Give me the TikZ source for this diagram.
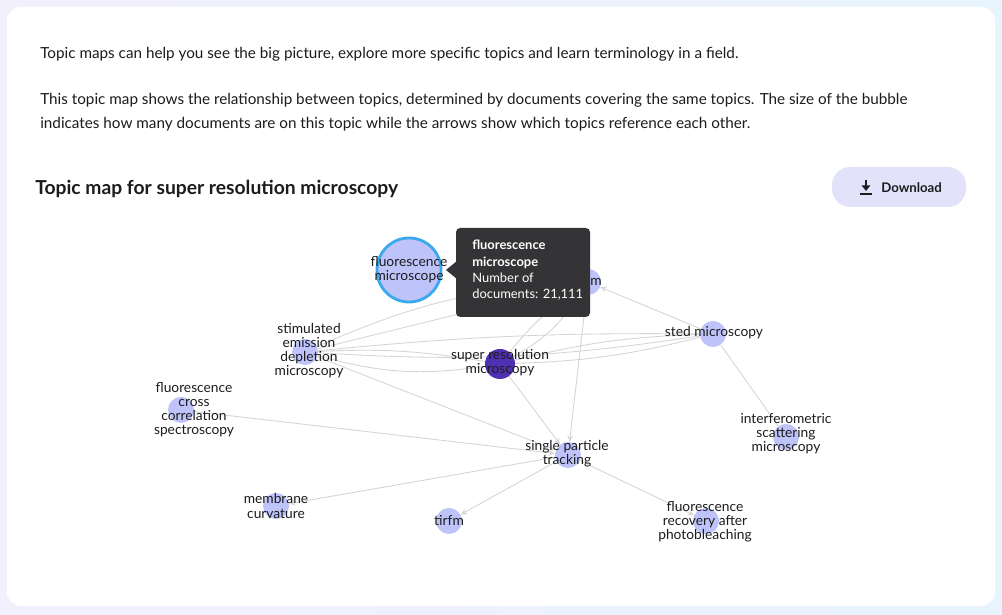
\documentclass[tikz,border=0pt]{standalone}
\usepackage{fontspec}
\setmainfont{Lato}
\usepackage{tikz}
\usetikzlibrary{positioning, arrows.meta, backgrounds, calc}

\definecolor{bubblefill}{RGB}{190,195,250}
\definecolor{srmfill}{RGB}{78,48,178}
\definecolor{fmring}{RGB}{58,168,236}
\definecolor{edgegray}{RGB}{212,212,214}
\definecolor{tipbg}{RGB}{52,52,54}
\definecolor{btnfill}{RGB}{226,226,250}
\definecolor{bodytext}{RGB}{28,28,30}
\definecolor{outerleft}{RGB}{243,240,253}
\definecolor{outerright}{RGB}{231,243,253}

\begin{document}
\begin{tikzpicture}[
    x=0.025cm, y=-0.025cm,
    bubble/.style={circle, fill=bubblefill, draw=none, minimum size=0.65cm, inner sep=0pt},
    bigbubble/.style={circle, fill=bubblefill, draw=fmring, line width=2pt, minimum size=1.6cm, inner sep=0pt},
    darkbubble/.style={circle, fill=srmfill, draw=none, minimum size=0.75cm, inner sep=0pt},
    lbl/.style={align=center, text=bodytext, font=\fontsize{9.8}{10}\selectfont, inner sep=0pt},
    edge/.style={draw=edgegray, line width=0.6pt},
    arr/.style={-{Stealth[length=4.5pt, width=4pt, open]}},
    para/.style={anchor=west, text=bodytext, font=\fontsize{10.85}{17}\selectfont, inner sep=0pt}
]
\useasboundingbox (0,0) rectangle (1002,615);

% Hintergrund und Karte
\begin{scope}[on background layer]
\shade[left color=outerleft, right color=outerright] (0,0) rectangle (1002,615);
\fill[white, rounded corners=10pt] (7,7) rectangle (995,606);
\end{scope}

% Texte oben
\node[para] (intro) at (40,54) {Topic maps can help you see the big picture, explore more specific topics and learn terminology in a field.};
\node[para, align=left, anchor=north west] (expl) at (40,93) {This topic map shows the relationship between topics, determined by documents covering the same topics. The size of the bubble\\indicates how many documents are on this topic while the arrows show which topics reference each other.};
\node[anchor=west, inner sep=0pt, text=bodytext, font=\fontsize{13.7}{15}\selectfont\bfseries] (title) at (35,189) {Topic map for super resolution microscopy};

% Download-Knopf
\node[fill=btnfill, rounded corners=13pt, minimum width=3.35cm, minimum height=1cm] (dl) at (899,187) {};
\node[anchor=west, inner sep=0pt, text=bodytext, font=\fontsize{9.4}{11}\selectfont\bfseries] (dltext) at (881,188) {Download};
\draw[bodytext, line width=1.3pt] (860,194) -- (872,194);
\draw[bodytext, line width=1.4pt, -{Triangle[length=4pt, width=6pt]}] (866,180) -- (866,191);

% Knoten
\node[bigbubble] (fm) at (409,270) {};
\node[bubble] (storm) at (588,282) {};
\node[bubble] (sdm) at (305,352) {};
\node[bubble] (sted) at (713,334) {};
\node[darkbubble] (srm) at (500,364) {};
\node[bubble] (fccs) at (181,410) {};
\node[bubble] (iscat) at (786,437) {};
\node[bubble] (spt) at (568,455) {};
\node[bubble] (memb) at (276,506) {};
\node[bubble] (tirfm) at (449,521) {};
\node[bubble] (frap) at (706,521) {};

% Kanten
\begin{scope}[on background layer]
\draw[edge, arr] (sted) -- (storm);
\draw[edge] (sted) -- (iscat);
\draw[edge, arr] (spt) -- (tirfm);
\draw[edge, arr] (spt) -- (memb);
\draw[edge, arr] (spt) -- (frap);
\draw[edge, arr] (fccs) -- (spt);
\draw[edge, arr] (srm) -- (spt);
\draw[edge, arr] (storm) -- (spt);
\draw[edge, arr] (sdm) -- (spt);
\draw[edge] (sdm) -- (storm);
\draw[edge] (sdm) to[bend left=10] (storm);
\draw[edge] (sdm) to[bend left=3] (sted);
\draw[edge] (sdm) to[bend right=6] (sted);
\draw[edge] (sdm) to[bend left=6] (srm);
\draw[edge] (sdm) to[bend right=12] (srm);
\draw[edge] (srm) to[bend left=8] (storm);
\draw[edge] (srm) to[bend right=14] (storm);
\draw[edge] (srm) to[bend left=6] (sted);
\draw[edge] (srm) to[bend right=6] (sted);
\end{scope}

% Beschriftungen
\node[lbl] (fm-l) at (fm) {fluorescence\\microscope};
\node[lbl] (sdm-l) at (309,351) {stimulated\\emission\\depletion\\microscopy};
\node[lbl] (sted-l) at (714,333) {sted microscopy};
\node[lbl] (srm-l) at (500,363) {super resolution\\microscopy};
\node[lbl] (fccs-l) at (194,410) {fluorescence\\cross\\correlation\\spectroscopy};
\node[lbl] (iscat-l) at (786,434) {interferometric\\scattering\\microscopy};
\node[lbl] (spt-l) at (567,454) {single particle\\tracking};
\node[lbl] (memb-l) at (276,506) {membrane\\curvature};
\node[lbl] (tirfm-l) at (449,521) {tirfm};
\node[lbl] (frap-l) at (705,522) {fluorescence\\recovery after\\photobleaching};
\node[lbl, anchor=west] (storm-l) at (590,282) {m};

% Tooltip
\fill[tipbg, rounded corners=3pt] (456,228) rectangle (590,317);
\fill[tipbg] (446,270) -- (457,261) -- (457,279) -- cycle;
\node[anchor=north west, align=left, inner sep=0pt, text=white, font=\fontsize{9.2}{11.6}\selectfont] (tip) at (472,240)
  {\textbf{fluorescence}\\\textbf{microscope}\\Number of\\documents: 21,111};

\end{tikzpicture}
\end{document}
